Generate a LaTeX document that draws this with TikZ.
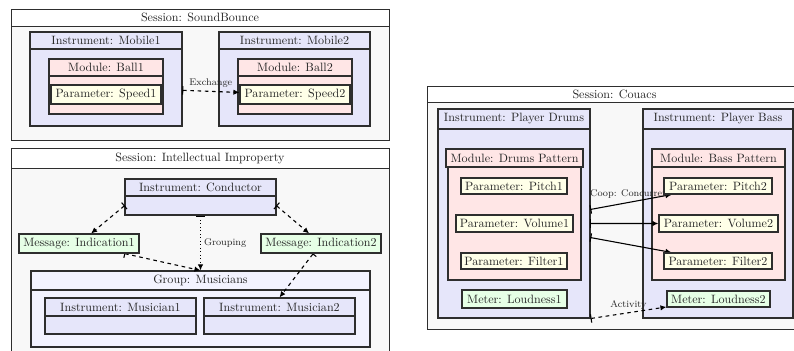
\documentclass[tikz,border=0pt]{standalone}
\usetikzlibrary{fit,arrows.meta}
\pgfdeclarelayer{front}
\pgfsetlayers{main,front}
\definecolor{sessbg}{HTML}{F8F8F8}
\definecolor{instbg}{HTML}{E6E6FA}
\definecolor{modbg}{HTML}{FFE6E6}
\definecolor{parbg}{HTML}{FFFFE8}
\definecolor{msgbg}{HTML}{E6FFE6}
\definecolor{grpbg}{HTML}{F3F3FF}
\definecolor{bordc}{HTML}{2E2E2E}
\definecolor{txtc}{HTML}{262626}
\tikzset{
  sessbox/.style={draw=bordc, line width=0.6pt, inner sep=0pt, fill=sessbg},
  instbox/.style={draw=bordc, line width=0.9pt, inner sep=0pt, fill=instbg},
  grpbox/.style={draw=bordc, line width=0.9pt, inner sep=0pt, fill=grpbg},
  modbox/.style={draw=bordc, line width=0.9pt, inner sep=0pt, fill=modbg},
  parbox/.style={draw=bordc, line width=0.9pt, inner sep=0pt, fill=parbg, text=txtc},
  msgbox/.style={draw=bordc, line width=0.9pt, inner sep=0pt, fill=msgbg, text=txtc},
  ttl/.style={inner sep=0pt, text=txtc},
  lbl/.style={font=\footnotesize, text=txtc, inner sep=2.5pt},
  arr/.style={line width=0.9pt, {Bar[width=7pt]}-{Latex[length=5pt,width=4.5pt]}},
}
% container with a title band
\newcommand\ctr[9]{%
  \node[#2, fit={(#3,#4) (#5,#6)}] (#1) {};
  \node[#2, fill=#9, fit={(#3,#4) (#5,#7)}] (#1-t) {};
  \node[ttl] (#1-l) at (#1-t.center) {#8};
  \node[inner sep=0pt, fit={(#3,#7) (#5,#6)}] (#1-b) {};
}
% leaf box with text
\newcommand\leaf[7]{%
  \node[#2, minimum width={(#5-#3)*0.8285pt}, minimum height={(#6-#4)*0.8285pt}]
    (#1) at ({(#3+#5)/2},{(#4+#6)/2}) {#7};
}
\begin{document}
\begin{tikzpicture}[x=0.8285pt, y=-0.8285pt]
\useasboundingbox (0,0) rectangle (794,351);

% ---------------- Session: SoundBounce ----------------
\ctr{s1}{sessbox}{11}{9}{389}{140}{26}{Session: SoundBounce}{white}
\ctr{i1}{instbox}{30}{32}{182}{126}{49}{Instrument: Mobile1}{instbg}
\ctr{m1}{modbox}{49}{59}{163}{114}{76}{Module: Ball1}{modbg}
\ctr{i2}{instbox}{219}{32}{370}{126}{49}{Instrument: Mobile2}{instbg}
\ctr{m2}{modbox}{238}{59}{352}{114}{76}{Module: Ball2}{modbg}
\begin{pgfonlayer}{front}
\leaf{p1}{parbox}{51}{85}{161}{104}{Parameter: Speed1}
\leaf{p2}{parbox}{240}{85}{350}{104}{Parameter: Speed2}
\end{pgfonlayer}
\draw[arr, dashed] (i1-b) -- (p2) node[midway, above, lbl] {Exchange};

% ---------------- Session: Intellectual Improperty ----------------
\ctr{s2}{sessbox}{11}{148}{389}{362}{168}{Session: Intellectual Improperty}{white}
\ctr{cond}{instbox}{125}{179}{276}{215}{196}{Instrument: Conductor}{instbg}
\ctr{grp}{grpbox}{31}{271}{370}{347}{290}{Group: Musicians}{grpbg}
\ctr{mus1}{instbox}{45}{298}{196}{334}{316}{Instrument: Musician1}{instbg}
\ctr{mus2}{instbox}{204}{298}{355}{334}{316}{Instrument: Musician2}{instbg}
\begin{pgfonlayer}{front}
\leaf{ind1}{msgbox}{19}{234}{139}{253}{Message: Indication1}
\leaf{ind2}{msgbox}{261}{234}{381}{253}{Message: Indication2}
\end{pgfonlayer}
\draw[arr, dashed] (cond-b.west) -- (ind1);
\draw[arr, dashed] (cond-b.east) -- (ind2);
\draw[arr, dotted] (cond.south) -- (grp.north) node[midway, right, lbl] {Grouping};
\draw[arr, dashed] (ind1) -- (grp.north);
\draw[arr, dashed] (ind2) -- (mus2.north);

% ---------------- Session: Couacs ----------------
\ctr{s3}{sessbox}{427}{86}{802}{329}{102}{Session: Couacs}{white}
\ctr{i3}{instbox}{438}{109}{590}{318}{129}{Instrument: Player Drums}{instbg}
\node[modbox, fit={(448,167) (581,280)}] (m3) {};
\node[modbox, fit={(446,149) (583,167)}] (m3-t) {};
\node[ttl] (m3-l) at (m3-t.center) {Module: Drums Pattern};
\ctr{i4}{instbox}{643}{109}{793}{318}{129}{Instrument: Player Bass}{instbg}
\node[modbox, fit={(652,167) (785,280)}] (m4) {};
\node[modbox, fit={(652,149) (785,167)}] (m4-t) {};
\node[ttl] (m4-l) at (m4-t.center) {Module: Bass Pattern};
\begin{pgfonlayer}{front}
\leaf{pit1}{parbox}{461}{178}{567}{194}{Parameter: Pitch1}
\leaf{vol1}{parbox}{456}{215}{573}{232}{Parameter: Volume1}
\leaf{fil1}{parbox}{461}{253}{567}{269}{Parameter: Filter1}
\leaf{loud1}{msgbox}{462}{290}{567}{308}{Meter: Loudness1}
\leaf{pit2}{parbox}{664}{178}{772}{194}{Parameter: Pitch2}
\leaf{vol2}{parbox}{659}{215}{778}{232}{Parameter: Volume2}
\leaf{fil2}{parbox}{664}{253}{772}{269}{Parameter: Filter2}
\leaf{loud2}{msgbox}{667}{291}{770}{307}{Meter: Loudness2}
\end{pgfonlayer}
\draw[arr] (i3-b) -- (pit2) node[midway, above, lbl] {Coop: Concurrent};
\draw[arr] (i3-b) -- (vol2);
\draw[arr] (i3-b) -- (fil2);
\draw[arr, dashed] (i3.south east) -- (loud2) node[midway, above, lbl] {Activity};
\end{tikzpicture}
\end{document}
